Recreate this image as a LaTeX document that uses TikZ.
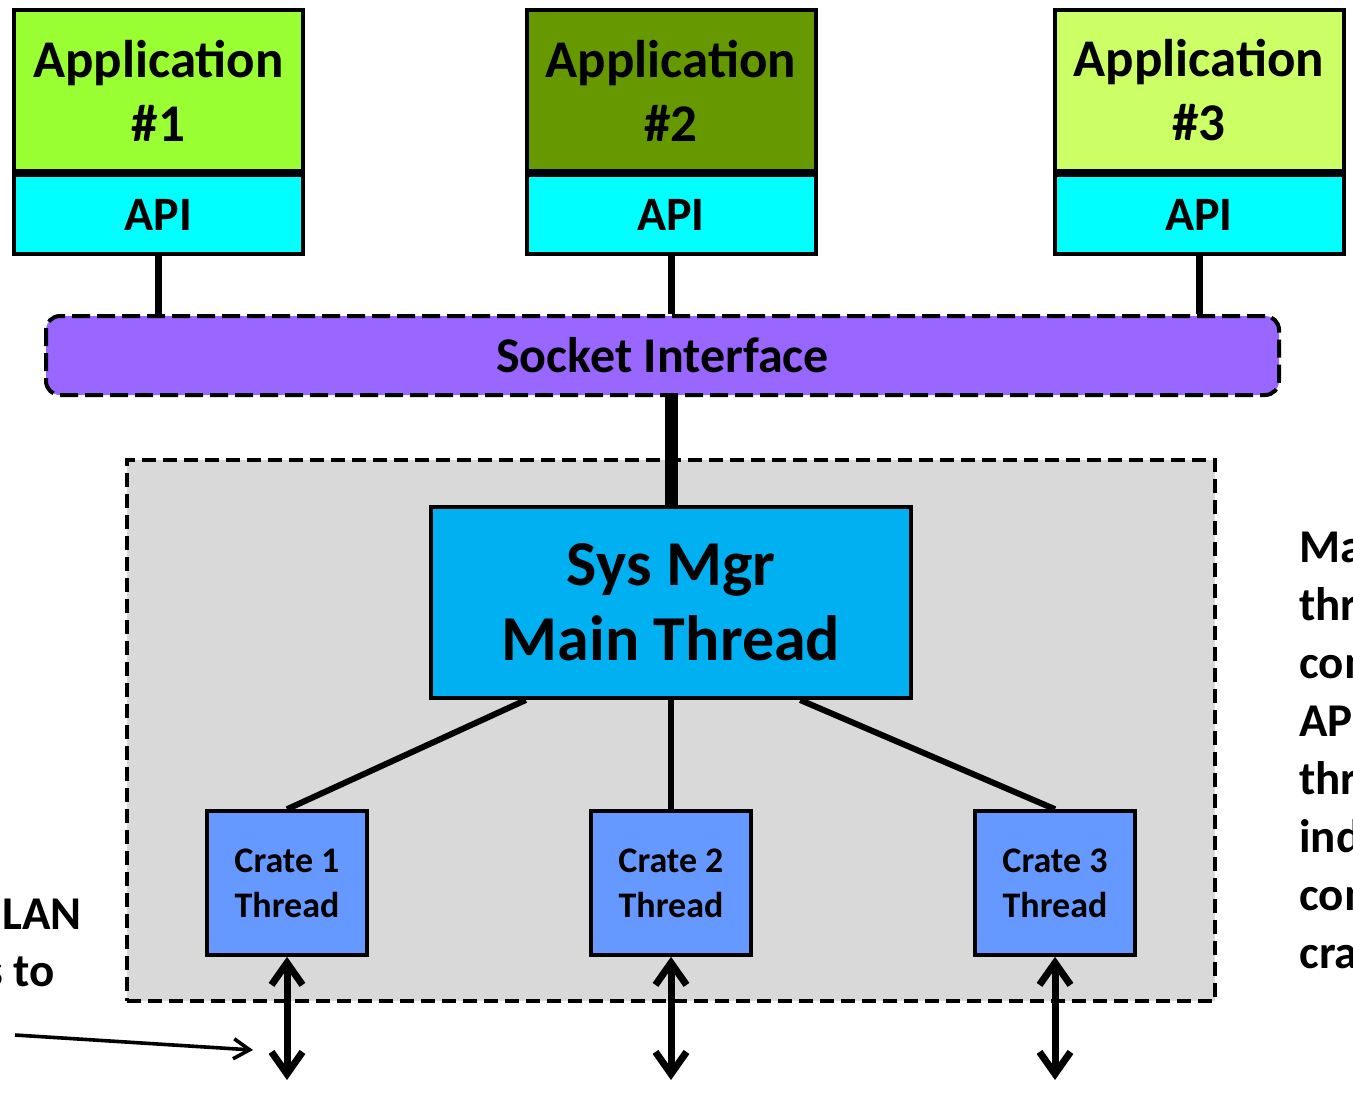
\documentclass[tikz,border=0pt]{standalone}
\usepackage{fontspec}
\setmainfont{Carlito}
\usetikzlibrary{arrows.meta,calc}
\definecolor{appone}{HTML}{99FF33}
\definecolor{apptwo}{HTML}{669900}
\definecolor{appthree}{HTML}{CCFF66}
\definecolor{apicol}{HTML}{00FFFF}
\definecolor{sockcol}{HTML}{9966FF}
\definecolor{graycol}{HTML}{D9D9D9}
\definecolor{mgrcol}{HTML}{00B0F0}
\definecolor{cratecol}{HTML}{6699FF}
\begin{document}
\begin{tikzpicture}[x=0.5pt,y=-0.5pt,
  box/.style={draw=black, line width=2pt, inner sep=0pt, align=center},
  apptop/.style={box, minimum width=144.5pt, minimum height=80.5pt,
    font=\bfseries\fontsize{26.5}{32}\selectfont},
  apibox/.style={box, fill=apicol, minimum width=144.5pt, minimum height=39.5pt,
    font=\bfseries\fontsize{24}{29}\selectfont},
  crate/.style={box, fill=cratecol, line width=1.8pt, minimum width=80pt, minimum height=72pt,
    font=\bfseries\fontsize{18}{22.5}\selectfont},
  stub/.style={line width=3.5pt},
  link/.style={line width=3pt},
  dbl/.style={line width=3.5pt, {Straight Barb[length=11pt,width=15.5pt]}-{Straight Barb[length=11pt,width=15.5pt]}},
  side/.style={font=\bfseries\fontsize{23.5}{29}\selectfont, inner sep=0pt, align=left}
]
\useasboundingbox (0,0) rectangle (1353,1094);
\clip (0,0) rectangle (1353,1094);

% gray area
\node[draw=black, dash pattern=on 7pt off 3.5pt, line width=1.7pt, fill=graycol,
  minimum width=544pt, minimum height=270.5pt, inner sep=0pt] (area) at (671,730.5) {};

% applications
\node[apptop, fill=appone] (app1) at (158.5,90.5) {Application\\\#1};
\node[apibox, anchor=north] (api1) at (app1.south) {API};
\node[apptop, fill=apptwo] (app2) at (671,90.5) {Application\\\#2};
\node[apibox, anchor=north] (api2) at (app2.south) {API};
\node[apptop, fill=appthree] (app3) at (1199,90.5) {Application\\\#3};
\node[apibox, anchor=north] (api3) at (app3.south) {API};

% socket interface
\node[draw=black, line width=2pt, dash pattern=on 9pt off 3.5pt, rounded corners=7pt,
  fill=sockcol, minimum width=616.5pt, minimum height=39.5pt, inner sep=0pt,
  font=\bfseries\fontsize{25}{30}\selectfont] (sock) at (662.5,355.5) {Socket Interface};

\draw[stub] (api1.south) -- (api1.south |- sock.north);
\draw[stub] (api2.south) -- (api2.south |- sock.north);
\draw[stub] (api3.south) -- (api3.south |- sock.north);

% sys mgr
\node[box, fill=mgrcol, minimum width=240pt, minimum height=95.5pt,
  font=\bfseries\fontsize{32}{37.5}\selectfont] (mgr) at (671,602.5) {Sys Mgr\\Main Thread};
\draw[line width=6.5pt] (mgr.north |- sock.south) -- (mgr.north);

% crates
\node[crate] (c1) at (287,883) {Crate 1\\Thread};
\node[crate] (c2) at (671,883) {Crate 2\\Thread};
\node[crate] (c3) at (1055,883) {Crate 3\\Thread};

\draw[link] ($(mgr.south west)!0.2!(mgr.south east)$) -- (c1.north);
\draw[link] (mgr.south) -- (c2.north);
\draw[link] ($(mgr.south west)!0.767!(mgr.south east)$) -- (c3.north);

\coordinate (b1) at (287,1080);
\coordinate (b2) at (671,1080);
\coordinate (b3) at (1055,1080);
\draw[dbl] (c1.south) -- (b1);
\draw[dbl] (c2.south) -- (b2);
\draw[dbl] (c3.south) -- (b3);

% left text and arrow
\node[side, anchor=base west] (lan) at (2,929) {LAN};
\node[side, anchor=base east] (to) at (55,986) {s to};
\coordinate (la) at (15,1035);
\coordinate (lb) at (253,1050);
\draw[line width=1.8pt, -{Straight Barb[length=8pt,width=10pt]}] (la) -- (lb);

% right text
\node[side, anchor=base west] (note) at (1299,968)
  {Main\\thread\\communicates\\API\\threads\\individual\\communicates\\crate};
\end{tikzpicture}
\end{document}
